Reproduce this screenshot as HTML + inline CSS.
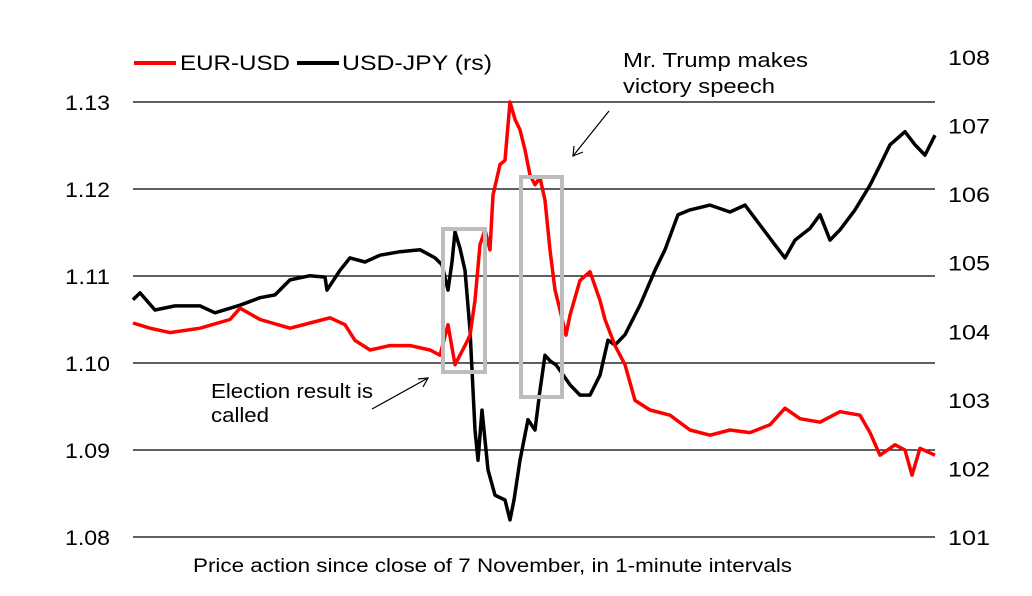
<!DOCTYPE html>
<html><head><meta charset="utf-8"><style>
body{margin:0;background:#fff;}
svg{display:block;font-family:"Liberation Sans",Arial,sans-serif;}
</style></head><body>
<svg id="chart" width="1032" height="596" viewBox="0 0 1032 596">
<g id="grid"></g>
<g id="lticks"></g>
<g id="rticks"></g>
<g id="series"></g>
<rect x="443" y="229" width="42" height="143" fill="none" stroke="#bdbdbd" stroke-width="4"/>
<rect x="521" y="177" width="41" height="220" fill="none" stroke="#bdbdbd" stroke-width="4"/>
<g>
<line x1="134" y1="63" x2="176" y2="63" stroke="#f00" stroke-width="4"/>
<text x="180" y="70" font-size="21" textLength="110" lengthAdjust="spacingAndGlyphs">EUR-USD</text>
<line x1="297" y1="63" x2="339" y2="63" stroke="#000" stroke-width="4"/>
<text x="342" y="70" font-size="21" textLength="150" lengthAdjust="spacingAndGlyphs">USD-JPY (rs)</text>
</g>
<g>
<text x="623" y="67" font-size="20" textLength="185" lengthAdjust="spacingAndGlyphs">Mr. Trump makes</text>
<text x="623" y="93" font-size="20" textLength="152" lengthAdjust="spacingAndGlyphs">victory speech</text>
<line x1="609" y1="111" x2="573" y2="156" stroke="#000" stroke-width="1.2"/>
<polyline points="574,146 573,156 583,152" fill="none" stroke="#000" stroke-width="1.2"/>
</g>
<g>
<text x="211" y="398" font-size="20" textLength="162" lengthAdjust="spacingAndGlyphs">Election result is</text>
<text x="211" y="422" font-size="20" textLength="58" lengthAdjust="spacingAndGlyphs">called</text>
<line x1="372" y1="409" x2="428" y2="378" stroke="#000" stroke-width="1.2"/>
<polyline points="418,379 428,378 423,387" fill="none" stroke="#000" stroke-width="1.2"/>
</g>
<text x="193" y="572" font-size="19" textLength="599" lengthAdjust="spacingAndGlyphs">Price action since close of 7 November, in 1-minute intervals</text>
</svg>
<script>
const eurX=[133,150,170,200,230,240,260,290,310,330,345,355,370,390,410,430,440,448,455,465,470,475,480,485,490,493,500,505,510,515,520,525,530,535,540,545,550,555,560,566,570,580,590,600,605,615,625,635,650,670,690,710,730,750,770,785,800,820,840,860,870,880,895,905,912,920,935];
const eurVals=[1.1046,1.104,1.1035,1.104,1.105,1.1063,1.105,1.104,1.1046,1.1052,1.1044,1.1026,1.1015,1.102,1.102,1.1015,1.1009,1.1044,1.0998,1.102,1.1032,1.1072,1.1136,1.1153,1.113,1.1193,1.1228,1.1233,1.13,1.128,1.1268,1.1245,1.1216,1.1205,1.1213,1.1187,1.113,1.1084,1.1061,1.1032,1.1055,1.1095,1.1105,1.1072,1.105,1.102,1.0998,1.0957,1.0946,1.094,1.0923,1.0917,1.0923,1.092,1.0929,1.0948,1.0936,1.0932,1.0944,1.094,1.092,1.0894,1.0906,1.09,1.0871,1.0902,1.0894];
const jpyX=[133,140,155,175,200,215,240,260,275,290,310,325,327,340,350,365,380,400,420,435,442,448,452,455,460,465,470,475,478,482,488,495,505,510,514,520,528,535,540,545,550,556,560,570,580,590,600,608,615,625,640,655,665,678,690,710,730,745,760,775,785,795,810,820,830,840,855,870,880,890,905,915,925,935];
const jpyVals=[104.46,104.56,104.31,104.37,104.37,104.27,104.38,104.49,104.53,104.75,104.81,104.79,104.6,104.89,105.07,105.01,105.11,105.16,105.19,105.07,104.97,104.6,105.01,105.45,105.21,104.89,104.02,102.56,102.12,102.85,101.98,101.61,101.54,101.25,101.54,102.12,102.71,102.56,103.14,103.65,103.57,103.51,103.43,103.22,103.07,103.07,103.36,103.87,103.8,103.95,104.38,104.89,105.19,105.7,105.77,105.84,105.74,105.84,105.55,105.26,105.07,105.33,105.5,105.7,105.33,105.48,105.77,106.13,106.42,106.72,106.91,106.72,106.57,106.86];
const leftTicks=["1.08","1.09","1.10","1.11","1.12","1.13"];
const rightTicks=["101","102","103","104","105","106","107","108"];
const NS="http://www.w3.org/2000/svg";
const yL=v=>537-(v-1.08)*8700;
const yR=v=>537-(v-101)*(480/7);
function mk(tag,attrs,parent){const e=document.createElementNS(NS,tag);for(const k in attrs)e.setAttribute(k,attrs[k]);parent.appendChild(e);return e;}
const grid=document.getElementById('grid'),lt=document.getElementById('lticks'),rt=document.getElementById('rticks'),ser=document.getElementById('series');
leftTicks.forEach(t=>{const y=yL(parseFloat(t));
 const l=mk('line',{x1:133,x2:935,y1:y,y2:y,stroke:'#000','stroke-width':1.3},grid);
 
 
 const tx=mk('text',{x:65,y:y+8,'font-size':21,textLength:45,lengthAdjust:'spacingAndGlyphs'},lt);tx.textContent=t;
 
 
});
rightTicks.forEach(t=>{const y=yR(parseFloat(t));
 const tx=mk('text',{x:948,y:y+8,'font-size':21,textLength:42,lengthAdjust:'spacingAndGlyphs'},rt);tx.textContent=t;
 
 
});
const pj=mk('polyline',{points:jpyX.map((x,i)=>x+','+yR(jpyVals[i]).toFixed(1)).join(' '),fill:'none',stroke:'#000','stroke-width':3.5,'stroke-linejoin':'round'},ser);


const pe=mk('polyline',{points:eurX.map((x,i)=>x+','+yL(eurVals[i]).toFixed(1)).join(' '),fill:'none',stroke:'#f00','stroke-width':3.5,'stroke-linejoin':'round'},ser);


</script>
</body></html>
